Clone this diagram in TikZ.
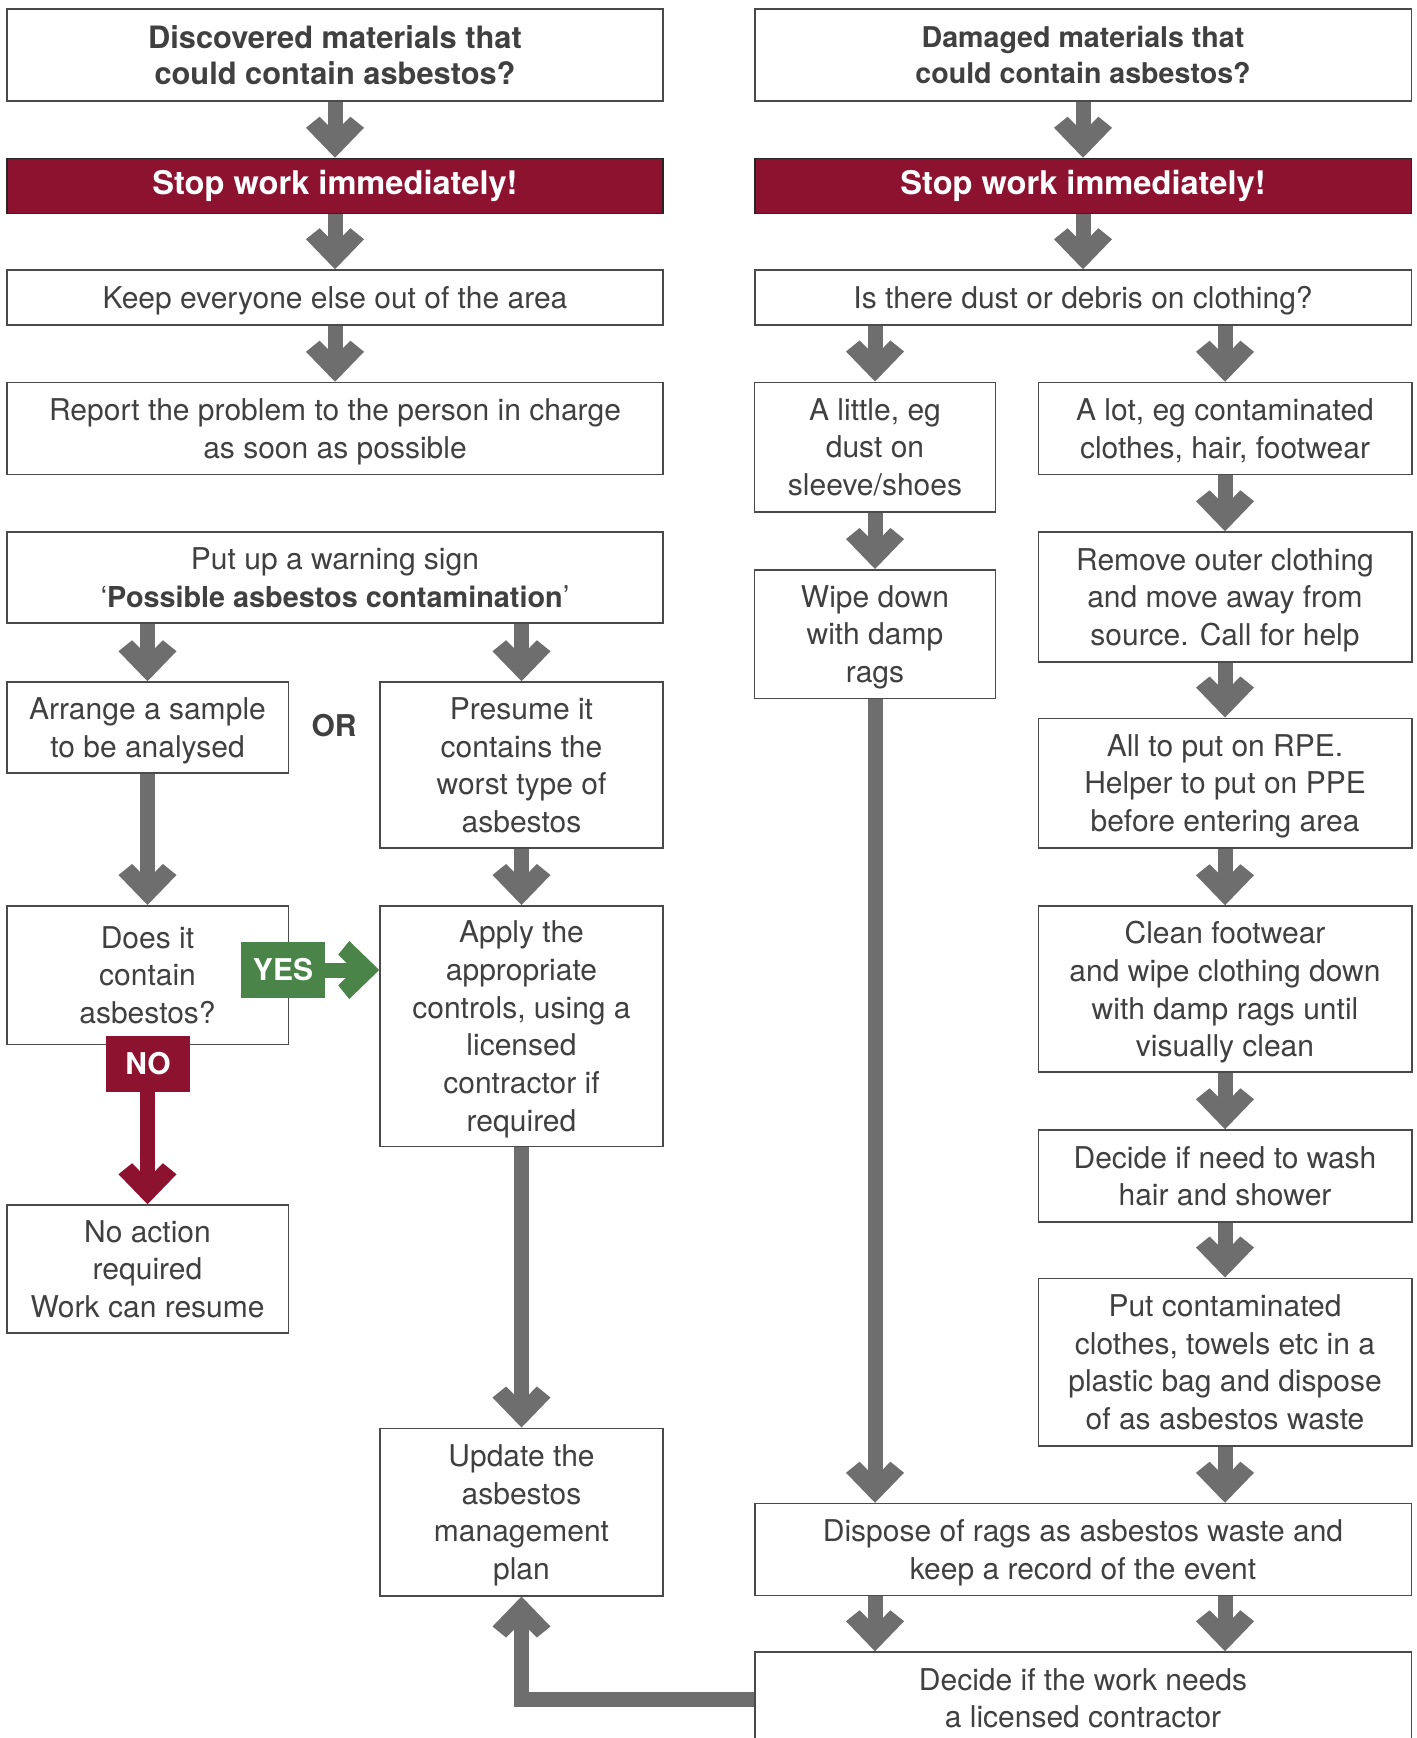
\documentclass[tikz,border=0pt]{standalone}
\usepackage{fontspec}
\setmainfont{TeX Gyre Heros}
\usetikzlibrary{arrows.meta}
\definecolor{txt}{HTML}{404040}
\definecolor{bord}{HTML}{4A4A4A}
\definecolor{agray}{HTML}{6E6E6E}
\definecolor{ared}{HTML}{8C1230}
\definecolor{agreen}{HTML}{4A8448}

\pgfdeclarearrow{
  name=Chev,
  setup code={
    \pgfarrowssettipend{0pt}
    \pgfarrowssetlineend{-14pt}
    \pgfarrowshullpoint{0pt}{0pt}
    \pgfarrowshullpoint{-15pt}{14.5pt}
    \pgfarrowshullpoint{-20.5pt}{7.7pt}
    \pgfarrowshullpoint{-20.5pt}{-7.7pt}
    \pgfarrowshullpoint{-15pt}{-14.5pt}
  },
  drawing code={
    \pgfpathmoveto{\pgfqpoint{0pt}{0pt}}
    \pgfpathlineto{\pgfqpoint{-15pt}{14.5pt}}
    \pgfpathlineto{\pgfqpoint{-20.5pt}{7.7pt}}
    \pgfpathlineto{\pgfqpoint{-16.5pt}{3.75pt}}
    \pgfpathlineto{\pgfqpoint{-16.5pt}{-3.75pt}}
    \pgfpathlineto{\pgfqpoint{-20.5pt}{-7.7pt}}
    \pgfpathlineto{\pgfqpoint{-15pt}{-14.5pt}}
    \pgfpathclose
    \pgfusepathqfill
  }
}

\tikzset{
  box/.style={draw=bord, line width=0.75pt, fill=white, text=txt, align=center,
    inner sep=0pt, text depth=0pt, font=\fontsize{15}{18.85}\selectfont},
  bx/.style 2 args={minimum width=#1*0.5pt, minimum height=#2*0.5pt},
  titleL/.style={box, font=\bfseries\fontsize{15.4}{18.3}\selectfont},
  titleR/.style={box, font=\bfseries\fontsize{14.3}{18.3}\selectfont},
  stopbox/.style={draw=black!85, line width=0.75pt, fill=ared, text=white,
    inner sep=0pt, font=\bfseries\fontsize{16.3}{19}\selectfont},
  ortext/.style={text=txt, font=\bfseries\fontsize{15}{18}\selectfont, inner sep=0pt},
  tagbox/.style={text=white, inner sep=0pt, font=\bfseries\fontsize{15}{18}\selectfont,
    minimum width=42pt, minimum height=28pt},
  garrow/.style={draw=agray, line width=7.5pt, -Chev},
  rarrow/.style={draw=ared, line width=7.5pt, -Chev},
  grarrow/.style={draw=agreen, line width=7.5pt, -Chev},
}

\begin{document}
\begin{tikzpicture}[x=0.5pt, y=-0.5pt]
\useasboundingbox (0,0) rectangle (1417,1738);
\fill[white] (0,0) rectangle (1417,1738);

% left column
\node[titleL, bx={656}{92}] (t1) at (335,55) {Discovered materials that\\could contain asbestos?};
\node[stopbox, bx={656}{55}] (s1) at (335,186) {Stop work immediately!};
\node[box, bx={656}{55}] (k1) at (335,297.5) {Keep everyone else out of the area};
\node[box, bx={656}{92}] (r1) at (335,428.5) {Report the problem to the person in charge\\as soon as possible};
\node[box, bx={656}{91}] (w1) at (335,577.5) {Put up a warning sign\\‘{\bfseries\fontsize{14.4}{18.85}\selectfont Possible asbestos contamination}’};
\node[box, bx={281.5}{91}] (arr) at (147.5,727.5) {Arrange a sample\\to be analysed};
\node[box, bx={283}{166}] (pres) at (521.5,765) {Presume it\\contains the\\worst type of\\asbestos};
\node[ortext] (or) at (334,726) {OR};
\node[box, bx={281.5}{138.5}] (does) at (147.5,975) {Does it\\contain\\asbestos?};
\node[box, bx={283}{240.5}] (apply) at (521.5,1026) {Apply the\\appropriate\\controls, using a\\licensed\\contractor if\\required};
\node[box, bx={281.5}{128}] (noact) at (147.5,1269) {No action\\required\\Work can resume};
\node[box, bx={283}{167.5}] (upd) at (521.5,1512) {Update the\\asbestos\\management\\plan};

% right column
\node[titleR, bx={656.5}{92}] (t2) at (1083,55) {Damaged materials that\\could contain asbestos?};
\node[stopbox, bx={656.5}{55}] (s2) at (1083,186) {Stop work immediately!};
\node[box, bx={656.5}{55}] (q2) at (1083,297.5) {Is there dust or debris on clothing?};
\node[box, bx={240.7}{129.5}] (lit) at (875,447) {A little, eg\\dust on\\sleeve/shoes};
\node[box, bx={373.5}{92}] (lot) at (1225,428.5) {A lot, eg contaminated\\clothes, hair, footwear};
\node[box, bx={240.7}{128.5}] (wipe) at (875,634) {Wipe down\\with damp\\rags};
\node[box, bx={373.5}{130}] (rem) at (1225,597) {Remove outer clothing\\and move away from\\source. Call for help};
\node[box, bx={373.5}{129.5}] (rpe) at (1225,783) {All to put on RPE.\\Helper to put on PPE\\before entering area};
\node[box, bx={373.5}{166}] (clean) at (1225,989) {Clean footwear\\and wipe clothing down\\with damp rags until\\visually clean};
\node[box, bx={373.5}{92}] (wash) at (1225,1176) {Decide if need to wash\\hair and shower};
\node[box, bx={373.5}{167.5}] (put) at (1225,1362) {Put contaminated\\clothes, towels etc in a\\plastic bag and dispose\\of as asbestos waste};
\node[box, bx={656.5}{92}] (disp) at (1083,1549.5) {Dispose of rags as asbestos waste and\\keep a record of the event};
\node[box, bx={656.5}{92}] (lic) at (1083,1698) {Decide if the work needs\\a licensed contractor};

% left arrows
\draw[garrow] (t1) -- (s1);
\draw[garrow] (s1) -- (k1);
\draw[garrow] (k1) -- (r1);
\draw[garrow] (arr.north |- w1.south) -- (arr.north);
\draw[garrow] (pres.north |- w1.south) -- (pres.north);
\draw[garrow] (arr) -- (does);
\draw[garrow] (pres) -- (apply);
\draw[garrow] (apply) -- (upd);
\coordinate (yesc) at (283,970);
\draw[grarrow] (does.east |- yesc) -- (apply.west |- yesc);
\node[tagbox, fill=agreen] (yes) at (yesc) {YES};
\draw[rarrow] (does) -- (noact);
\node[tagbox, fill=ared] (no) at (148,1063.5) {NO};
\coordinate (fb) at (0,1699);
\draw[garrow] (lic.west |- fb) -| (upd.south);

% right arrows
\draw[garrow] (t2) -- (s2);
\draw[garrow] (s2) -- (q2);
\draw[garrow] (lit.north |- q2.south) -- (lit.north);
\draw[garrow] (lot.north |- q2.south) -- (lot.north);
\draw[garrow] (lit) -- (wipe);
\draw[garrow] (wipe.south) -- (disp.north -| wipe.south);
\draw[garrow] (lot) -- (rem);
\draw[garrow] (rem) -- (rpe);
\draw[garrow] (rpe) -- (clean);
\draw[garrow] (clean) -- (wash);
\draw[garrow] (wash) -- (put);
\draw[garrow] (put.south) -- (disp.north -| put.south);
\draw[garrow] (disp.south -| wipe.south) -- (lic.north -| wipe.south);
\draw[garrow] (disp.south -| put.south) -- (lic.north -| put.south);
\end{tikzpicture}
\end{document}
